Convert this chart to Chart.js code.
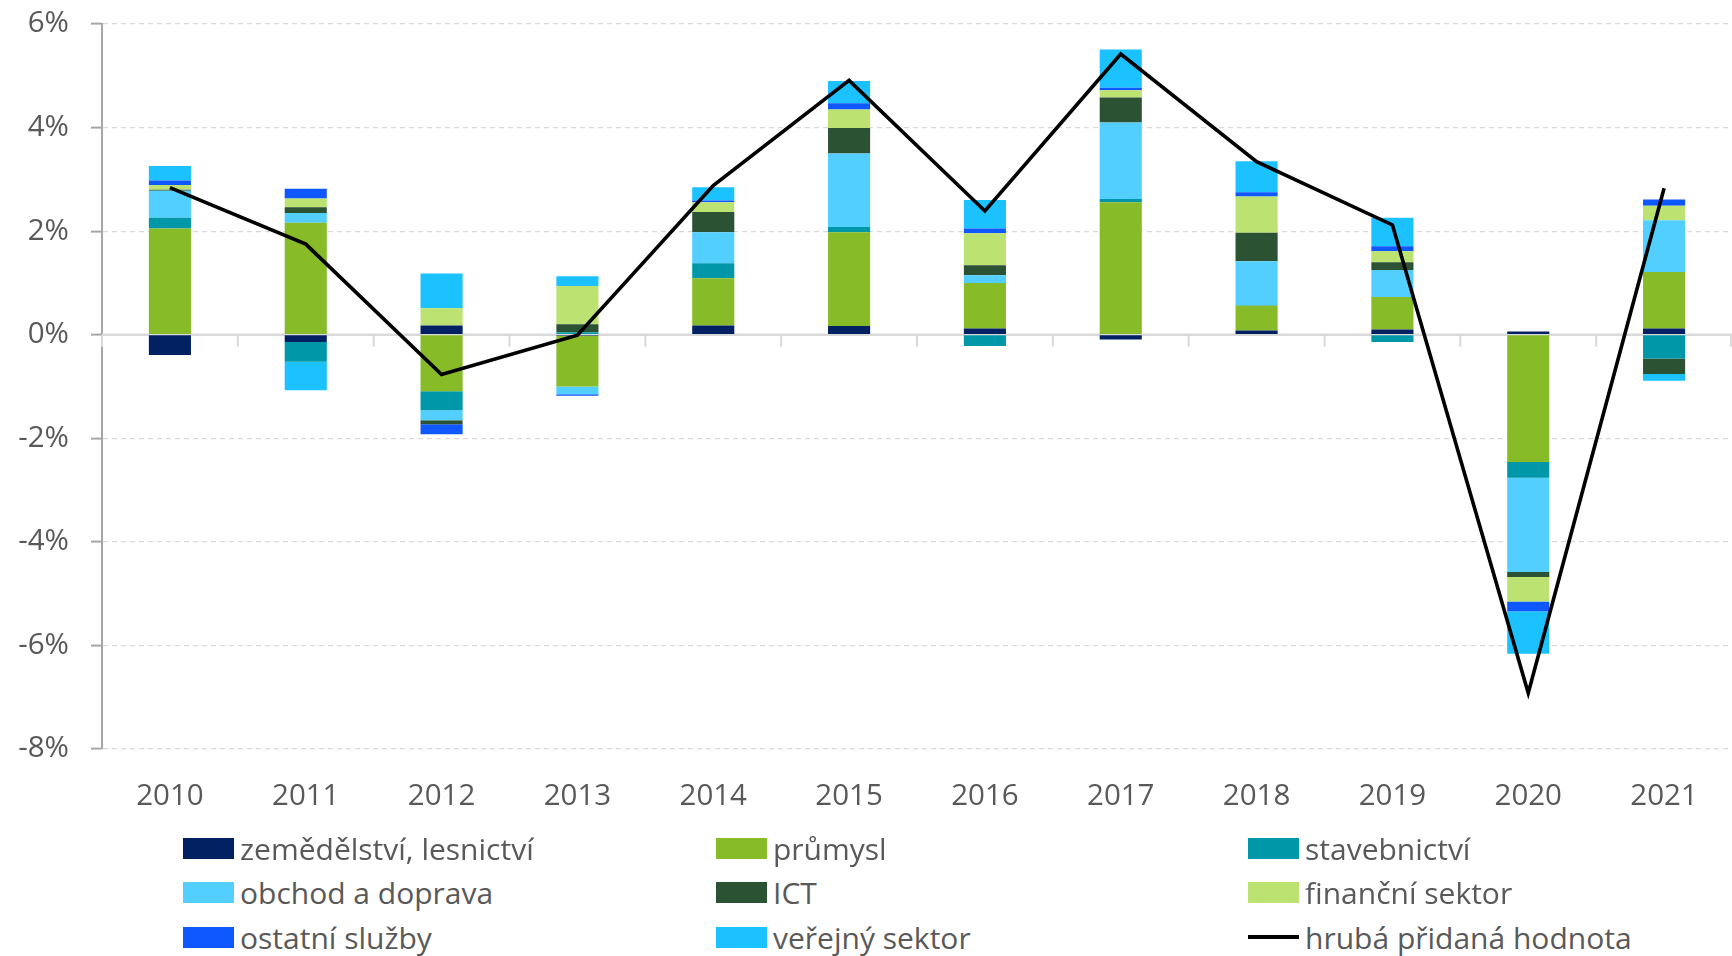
<!DOCTYPE html>
<html>
<head>
<meta charset="utf-8">
<script src="https://cdn.jsdelivr.net/npm/chart.js@4"></script>
<style>
  html, body { margin: 0; padding: 0; background: #fff; overflow: hidden; }
  #wrap { position: relative; width: 1732px; height: 956px; }
  #c { position: absolute; left: 0; top: 0; }
  .li { position: absolute; height: 40px; display: flex; align-items: center;
        font-family: "Open Sans", sans-serif; font-size: 30px; color: #595959; white-space: nowrap; }
  .sw { width: 51px; height: 21px; margin-right: 6px; flex: none; }
  .ln { width: 51px; height: 4px; margin-right: 6px; flex: none; }
</style>
</head>
<body>
<div id="wrap">
  <canvas id="c" width="1732" height="830"></canvas>
  <div id="legend"></div>
</div>
<script>
// ---- data (percentage-point contributions) ----
const years = ['2010','2011','2012','2013','2014','2015','2016','2017','2018','2019','2020','2021'];
const zemedelstvi  = [-0.39, -0.14,  0.18, -0.02, 0.18, 0.17,  0.12, -0.09, 0.08,  0.10,  0.06,  0.12];
const prumysl      = [ 2.05,  2.16, -1.09, -0.98, 0.91, 1.81,  0.88,  2.56, 0.48,  0.63, -2.46,  1.09];
const stavebnictvi = [ 0.21, -0.38, -0.37,  0.05, 0.29, 0.10, -0.22,  0.06, 0.01, -0.14, -0.30, -0.46];
const obchod       = [ 0.52,  0.19, -0.19, -0.15, 0.60, 1.42,  0.15,  1.48, 0.85,  0.52, -1.82,  1.00];
const ict          = [ 0.02,  0.11, -0.08,  0.15, 0.39, 0.49,  0.19,  0.48, 0.55,  0.15, -0.10, -0.30];
const financni     = [ 0.09,  0.17,  0.33,  0.74, 0.19, 0.36,  0.62,  0.14, 0.70,  0.21, -0.47,  0.28];
const ostatni      = [ 0.09,  0.19, -0.19, -0.03, 0.03, 0.12,  0.09,  0.05, 0.08,  0.10, -0.19,  0.12];
const verejny      = [ 0.28, -0.55,  0.67,  0.19, 0.26, 0.43,  0.55,  0.74, 0.60,  0.55, -0.82, -0.13];
const hph          = [ 2.84,  1.75, -0.77, -0.01, 2.88, 4.91,  2.39,  5.42, 3.34,  2.12, -6.92,  2.83];
const yTicks = [-8, -6, -4, -2, 0, 2, 4, 6];

const labels = {
  zem: 'zemědělství, lesnictví', pru: 'průmysl', sta: 'stavebnictví',
  obc: 'obchod a doprava', ict: 'ICT', fin: 'finanční sektor',
  ost: 'ostatní služby', ver: 'veřejný sektor', hph: 'hrubá přidaná hodnota'
};

const barSeries = [
  [labels.zem, zemedelstvi,  '#022163'],
  [labels.pru, prumysl,      '#87BB27'],
  [labels.sta, stavebnictvi, '#0098A8'],
  [labels.obc, obchod,       '#53CFFF'],
  [labels.ict, ict,          '#2C5234'],
  [labels.fin, financni,     '#BCE372'],
  [labels.ost, ostatni,      '#0F57FF'],
  [labels.ver, verejny,      '#1BC2FF']
];

const datasets = barSeries.map(([label, data, color]) => ({
  type: 'bar', label, data, backgroundColor: color, borderWidth: 0,
  categoryPercentage: 1.0, barPercentage: 0.31, order: 1
}));
datasets.push({
  type: 'line', label: labels.hph, data: hph, borderColor: '#000', backgroundColor: '#000',
  borderWidth: 3.6, pointRadius: 0, tension: 0, order: 0, stack: 'hph'
});

const zeroLine = {
  id: 'zeroLine',
  beforeDatasetsDraw(chart) {
    const { ctx, chartArea, scales: { x, y } } = chart;
    const y0 = y.getPixelForValue(0);
    ctx.save();
    ctx.strokeStyle = '#d9d9d9';
    ctx.lineWidth = 2.5;
    ctx.beginPath();
    ctx.moveTo(chartArea.left, y0);
    ctx.lineTo(chartArea.right, y0);
    ctx.stroke();
    ctx.lineWidth = 2;
    ctx.beginPath();
    const n = x.ticks.length;
    for (let i = 0; i <= n; i++) {
      let xb;
      if (i === 0) xb = chartArea.left;
      else if (i === n) xb = chartArea.right - 1;
      else xb = (x.getPixelForTick(i - 1) + x.getPixelForTick(i)) / 2;
      ctx.moveTo(xb, y0);
      ctx.lineTo(xb, y0 + 12);
    }
    ctx.stroke();
    ctx.restore();
  }
};

const font = { family: '"Open Sans", sans-serif', size: 29.5 };

const chart = new Chart(document.getElementById('c'), {
  data: { labels: years, datasets },
  options: {
    responsive: false, animation: false, devicePixelRatio: 1,
    layout: { padding: { top: 24, right: 0, left: 0, bottom: 0 } },
    plugins: { legend: { display: false }, tooltip: { enabled: false } },
    scales: {
      x: {
        stacked: true,
        grid: { display: false, drawTicks: false },
        border: { display: false },
        ticks: { color: '#595959', font, padding: 30, maxRotation: 0 },
        afterFit(s) { s.height = 81; s.paddingLeft = 0; s.paddingRight = 0; }
      },
      y: {
        stacked: true, min: -8, max: 6,
        afterBuildTicks(s) { s.ticks = yTicks.map(v => ({ value: v })); },
        ticks: { color: '#595959', font, padding: 22, callback: v => v + '%' },
        grid: {
          color: '#d9d9d9', lineWidth: 1.2, tickLength: 11, tickColor: '#a6a6a6', tickWidth: 2
        },
        border: {
          display: true, color: '#a6a6a6', width: 2,
          dash: c => (c.tick && c.tick.value === 0) ? [] : [5, 4]
        },
        afterFit(s) { s.width = 102; s.paddingTop = 0; s.paddingBottom = 0; }
      }
    }
  },
  plugins: [zeroLine]
});

// ---- HTML legend built from the chart's datasets ----
const legendOrder = [labels.zem, labels.pru, labels.sta, labels.obc, labels.ict, labels.fin, labels.ost, labels.ver, labels.hph];
const colX = [183, 716, 1248];
const rowY = [848, 892, 937];
const leg = document.getElementById('legend');
legendOrder.forEach((lab, i) => {
  const ds = chart.data.datasets.find(d => d.label === lab);
  const item = document.createElement('div');
  item.className = 'li';
  item.style.left = colX[i % 3] + 'px';
  item.style.top = (rowY[Math.floor(i / 3)] - 20) + 'px';
  const sw = document.createElement('span');
  if (ds.type === 'line') { sw.className = 'ln'; sw.style.background = ds.borderColor; }
  else { sw.className = 'sw'; sw.style.background = ds.backgroundColor; }
  const t = document.createElement('span');
  t.textContent = lab;
  item.appendChild(sw); item.appendChild(t);
  leg.appendChild(item);
});
</script>
</body>
</html>
